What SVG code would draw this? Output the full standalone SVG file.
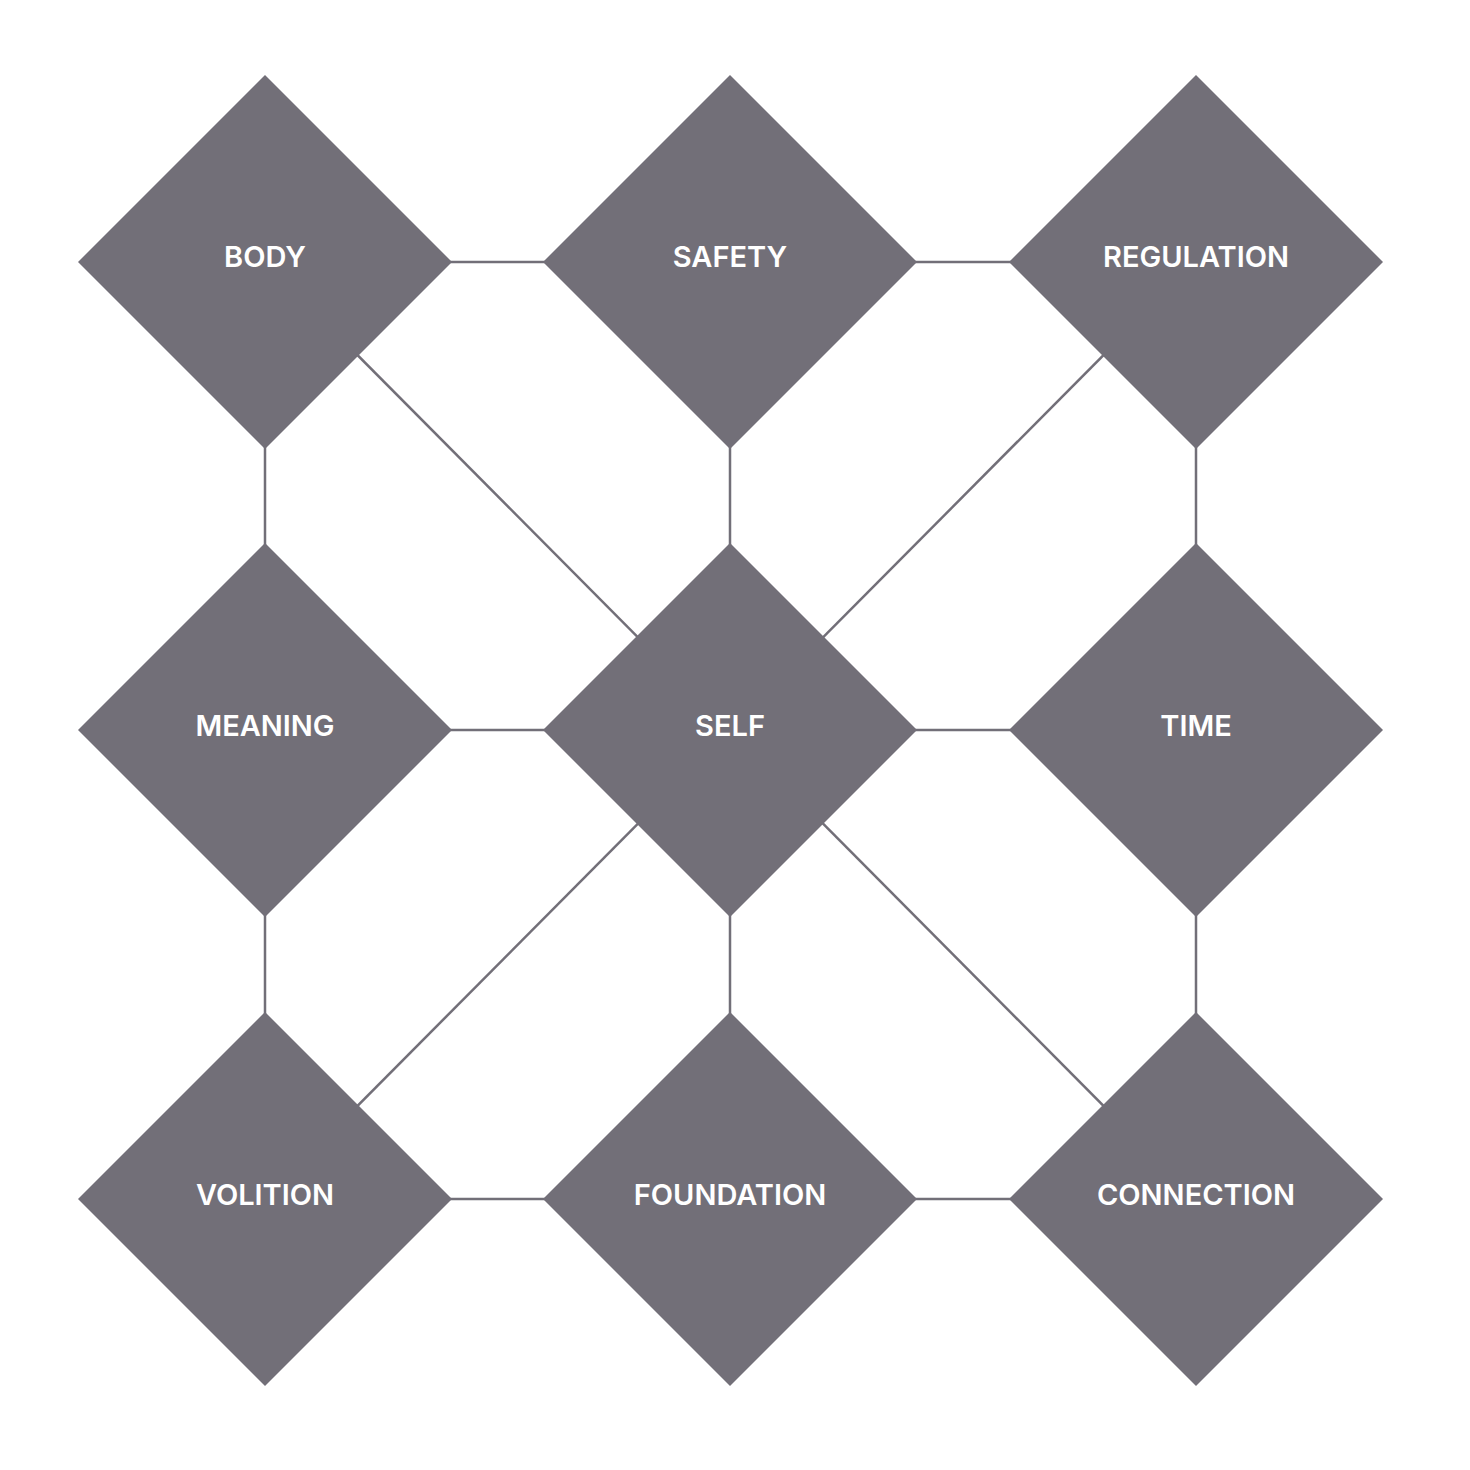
<svg xmlns="http://www.w3.org/2000/svg" width="1470" height="1470" viewBox="0 0 1470 1470">
<style>
.e{stroke:#726f78;stroke-width:2.5;fill:none}
.d{fill:#726f78}
.t{fill:#ffffff;font-family:Inter,"Liberation Sans",sans-serif;font-size:29px;font-weight:600;text-anchor:middle}
</style>
<defs><polygon id="dm" points="0,-187 187,0 0,187 -187,0"/></defs>
<rect width="1470" height="1470" fill="#ffffff"/>
<g id="connectors">
<line class="e" x1="265" y1="262" x2="730" y2="262"/>
<line class="e" x1="730" y1="262" x2="1196" y2="262"/>
<line class="e" x1="265" y1="730" x2="1196" y2="730"/>
<line class="e" x1="265" y1="1199" x2="1196" y2="1199"/>
<line class="e" x1="265" y1="262" x2="265" y2="1199"/>
<line class="e" x1="730" y1="262" x2="730" y2="1199"/>
<line class="e" x1="1196" y1="262" x2="1196" y2="1199"/>
<line class="e" x1="265" y1="262" x2="1196" y2="1199"/>
<line class="e" x1="1196" y1="262" x2="265" y2="1199"/>
</g>
<g id="body"><use href="#dm" class="d" x="265" y="262"/><text class="t" x="265" y="267">BODY</text></g>
<g id="safety"><use href="#dm" class="d" x="730" y="262"/><text class="t" x="730" y="267">SAFETY</text></g>
<g id="regulation"><use href="#dm" class="d" x="1196" y="262"/><text class="t" x="1196" y="267">REGULATION</text></g>
<g id="meaning"><use href="#dm" class="d" x="265" y="730"/><text class="t" x="265" y="736">MEANING</text></g>
<g id="self"><use href="#dm" class="d" x="730" y="730"/><text class="t" x="730" y="736">SELF</text></g>
<g id="time"><use href="#dm" class="d" x="1196" y="730"/><text class="t" x="1196" y="736">TIME</text></g>
<g id="volition"><use href="#dm" class="d" x="265" y="1199"/><text class="t" x="265" y="1205">VOLITION</text></g>
<g id="foundation"><use href="#dm" class="d" x="730" y="1199"/><text class="t" x="730" y="1205">FOUNDATION</text></g>
<g id="connection"><use href="#dm" class="d" x="1196" y="1199"/><text class="t" x="1196" y="1205">CONNECTION</text></g>
</svg>
